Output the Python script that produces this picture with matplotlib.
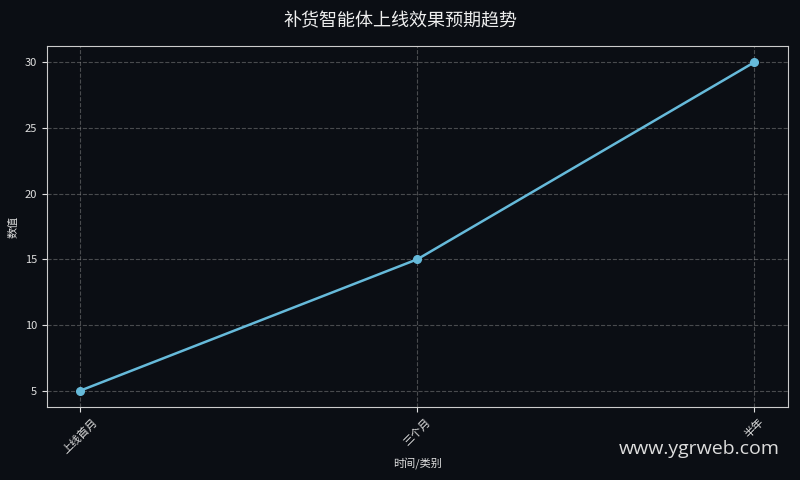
import matplotlib
matplotlib.use("Agg")
import matplotlib.pyplot as plt

plt.rcParams['font.family'] = ['Noto Sans CJK SC', 'DejaVu Sans']

categories = ["上线首月", "三个月", "半年"]
values = [5, 15, 30]

bg = "#0b0e14"
fig = plt.figure(figsize=(8, 4.8), dpi=100, facecolor=bg)
ax = fig.add_axes([0.0583, 0.152, 0.9267, 0.7525])
ax.set_facecolor(bg)
x = list(range(len(categories)))
ax.plot(x, values, color="#66bada", linewidth=1.8, marker="o", markersize=5.5)
ax.set_xticks(x)
ax.set_xticklabels(categories, rotation=45, color="#e0e0e0", fontsize=8)
ax.set_yticks([5, 10, 15, 20, 25, 30])
ax.tick_params(axis='y', colors="#e0e0e0", labelsize=8)
ax.tick_params(axis='x', colors="#e0e0e0")
ax.grid(True, linestyle="--", color="#888888", alpha=0.5, linewidth=0.8)
for s in ax.spines.values():
    s.set_color("#cccccc")
ax.set_xlabel("时间/类别", color="#e0e0e0", fontsize=8, labelpad=1)
ax.set_ylabel("数值", color="#e0e0e0", fontsize=8)
fig.suptitle("补货智能体上线效果预期趋势", color="#eeeeee", fontsize=13, y=0.975)
fig.text(0.975, 0.065, "www.ygrweb.com", color="#dddddd", fontsize=14,
         ha="right", va="center", family=["Open Sans", "DejaVu Sans"])
fig.savefig("out.png", dpi=100, facecolor=bg)
